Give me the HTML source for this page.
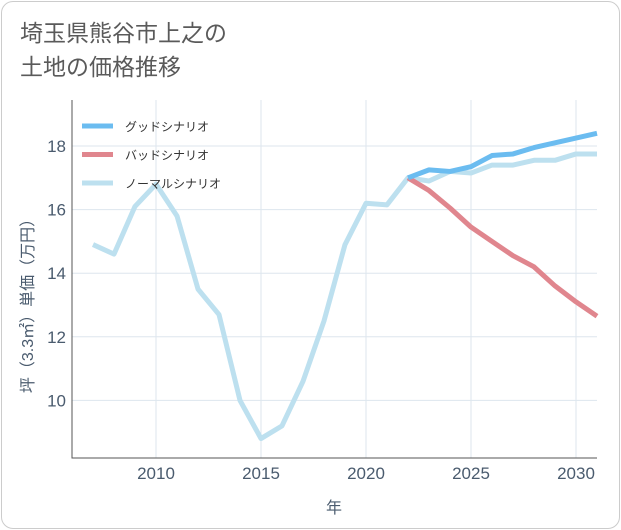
<!DOCTYPE html>
<html><head><meta charset="utf-8"><style>
html,body{margin:0;padding:0;background:#fff;}
#card{position:absolute;left:1px;top:1px;width:617px;height:526px;border:1px solid #ccc;border-radius:12px;background:#fff;overflow:hidden;}
#title{position:absolute;left:18px;top:14px;font:23px/34px "Liberation Sans","Noto Sans CJK JP",sans-serif;color:#5a5a5a;}
svg{position:absolute;left:0;top:0;}
text{font-family:"Liberation Sans","Noto Sans CJK JP",sans-serif;}
</style></head><body>
<div id="card">
<div id="title">埼玉県熊谷市上之の<br>土地の価格推移</div>
</div>
<svg id="chart" width="621" height="530"></svg>
<script>
const years=[2007,2008,2009,2010,2011,2012,2013,2014,2015,2016,2017,2018,2019,2020,2021,2022,2023,2024,2025,2026,2027,2028,2029,2030,2031];
const normalVals=[14.9,14.6,16.1,16.8,15.8,13.5,12.7,10.0,8.8,9.2,10.6,12.5,14.9,16.2,16.15,17.0,16.9,17.2,17.15,17.4,17.4,17.55,17.55,17.75,17.75];
const futureYears=[2022,2023,2024,2025,2026,2027,2028,2029,2030,2031];
const goodVals=[17.0,17.25,17.2,17.35,17.7,17.75,17.95,18.1,18.25,18.4];
const badVals=[17.0,16.6,16.05,15.45,15.0,14.55,14.2,13.6,13.1,12.65];
const xTicks=[2010,2015,2020,2025,2030];
const yTicks=[10,12,14,16,18];
const legendLabels=['グッドシナリオ','バッドシナリオ','ノーマルシナリオ'];
const colors=['#6bbcf0','#e0868e','#bde0ef'];

const L=72,R=597,T=100,B=458;
const x=v=>156+(v-2010)*21;
const y=v=>146-(v-18)*31.8;
const svg=document.getElementById('chart');
const NS='http://www.w3.org/2000/svg';
function mk(tag,attrs){const e=document.createElementNS(NS,tag);for(const k in attrs)e.setAttribute(k,attrs[k]);svg.appendChild(e);return e;}

xTicks.forEach(t=>{
  const g=mk('line',{x1:x(t),x2:x(t),y1:T,y2:B,stroke:'#dde6ee','stroke-width':1});
  
  
  const tx=mk('text',{x:x(t),y:479,'text-anchor':'middle','font-size':17,fill:'#4a5b6e'});
  tx.textContent=t;
  
  
});
yTicks.forEach(t=>{
  const g=mk('line',{x1:L,x2:R,y1:y(t),y2:y(t),stroke:'#dde6ee','stroke-width':1});
  
  
  const tx=mk('text',{x:66,y:y(t)+6,'text-anchor':'end','font-size':17,fill:'#4a5b6e'});
  tx.textContent=t;
  
  
});
const ax=mk('polyline',{points:`${L},${T} ${L},${B} ${R},${B}`,fill:'none',stroke:'#555','stroke-width':1});



function series(xs,vs,c,name){
  const p=mk('polyline',{points:xs.map((d,i)=>x(d)+','+y(vs[i])).join(' '),fill:'none',stroke:c,'stroke-width':5,'stroke-linejoin':'round'});
  
  
}
series(years,normalVals,colors[2],'normal-scenario-line');
series(futureYears,badVals,colors[1],'bad-scenario-line');
series(futureYears,goodVals,colors[0],'good-scenario-line');

legendLabels.forEach((lab,i)=>{
  const ly=126+i*28.5;
  const l=mk('line',{x1:82,x2:113,y1:ly,y2:ly,stroke:colors[i],'stroke-width':5});
  
  
  const t=mk('text',{x:125,y:ly+5,'font-size':12,fill:'#333'});
  t.textContent=lab;
  
  
});

const xt=mk('text',{x:334,y:513,'text-anchor':'middle','font-size':16,fill:'#4a5b6e'});
xt.textContent='年';


const yt=mk('text',{x:0,y:0,'text-anchor':'middle','font-size':16,fill:'#4a5b6e',transform:'translate(33,302) rotate(-90)'});
yt.textContent='坪（3.3㎡）単価（万円）';


</script>
</body></html>
